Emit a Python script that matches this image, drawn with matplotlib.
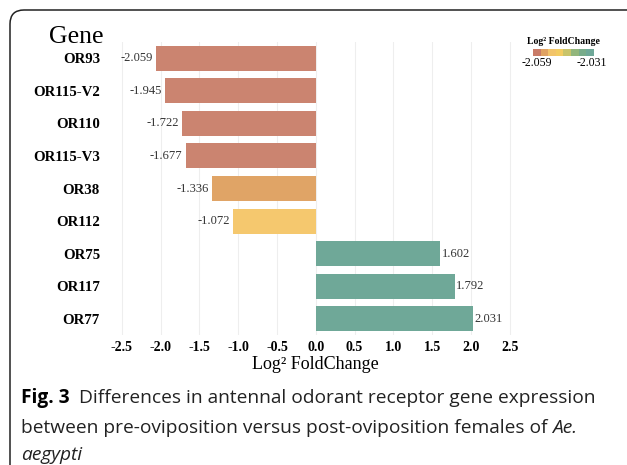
import numpy as np
import matplotlib
matplotlib.use('Agg')
import matplotlib.pyplot as plt
from matplotlib.colors import ListedColormap
from matplotlib.patches import FancyBboxPatch
from matplotlib.transforms import IdentityTransform

genes = ['OR93', 'OR115-V2', 'OR110', 'OR115-V3', 'OR38', 'OR112', 'OR75', 'OR117', 'OR77']
log2fc = [-2.059, -1.945, -1.722, -1.677, -1.336, -1.072, 1.602, 1.792, 2.031]
ticks = [-2.5, -2.0, -1.5, -1.0, -0.5, 0.0, 0.5, 1.0, 1.5, 2.0, 2.5]

bar_colors = ['#CB8470'] * 4 + ['#E0A466', '#F5C86E'] + ['#6FA898'] * 3
legend_colors = ['#C97B67', '#E0A262', '#F2C46A', '#F3CC62', '#C9C46A', '#92B67C', '#78AC8A', '#6FA898']

serif = ['Liberation Serif', 'DejaVu Serif']
sans = ['Open Sans', 'DejaVu Sans']

fig = plt.figure(figsize=(6.27, 4.65), dpi=100)

# rounded frame round the figure
frame = FancyBboxPatch((10, -30), 660, 485, boxstyle="round,pad=0,rounding_size=14",
                       transform=IdentityTransform(), facecolor='none',
                       edgecolor='#222222', linewidth=1.1)
fig.patches.append(frame)

ax = fig.add_axes([0.166, 0.2796, 0.674, 0.630])
y = np.arange(len(genes))
ax.barh(y, log2fc, height=0.77, color=bar_colors, zorder=2)

for yi, v in zip(y, log2fc):
    if v < 0:
        ax.text(v - 0.04, yi, f'{v:.3f}', ha='right', va='center',
                fontsize=9, family=serif, color='#333333')
    else:
        ax.text(v + 0.02, yi, f'{v:.3f}', ha='left', va='center',
                fontsize=9, family=serif, color='#333333')

ax.set_xlim(-2.73, 2.72)
ax.set_ylim(8.5, -0.5)
ax.set_xticks(ticks)
ax.set_xticklabels([f'{t:.1f}' for t in ticks], family=serif, fontweight='bold', fontsize=10)
ax.set_yticks(y)
ax.set_yticklabels(genes, family=serif, fontweight='bold', fontsize=10.7)
ax.tick_params(length=0, pad=4)
ax.tick_params(axis='y', pad=3)
ax.grid(axis='x', color='#EEEEEE', linewidth=0.8, zorder=0)
for s in ax.spines.values():
    s.set_visible(False)
ax.set_xlabel('Log² FoldChange', family=serif, fontsize=13, labelpad=2)

fig.text(103 / 627, 1 - 37 / 465, 'Gene', ha='right', va='center', family=serif, fontsize=18.5)

# small legend colour bar
cax = fig.add_axes([533 / 627, 1 - 56 / 465, 61 / 627, 7 / 465])
cax.imshow(np.arange(len(legend_colors))[None, :], cmap=ListedColormap(legend_colors),
           aspect='auto')
cax.set_xticks([])
cax.set_yticks([])
for s in cax.spines.values():
    s.set_visible(False)
fig.text(563 / 627, 1 - 41 / 465, 'Log² FoldChange', ha='center', va='center',
         family=serif, fontweight='bold', fontsize=7)
fig.text(522 / 627, 1 - 63 / 465, '-2.059', ha='left', va='center', family=serif, fontsize=8.5)
fig.text(607 / 627, 1 - 63 / 465, '-2.031', ha='right', va='center', family=serif, fontsize=8.5)

# caption
cap_size = 13.8
t1 = fig.text(21 / 627, 1 - 398 / 465, 'Fig. 3', ha='left', va='center',
              family=sans, fontweight='bold', fontsize=cap_size)
plt.annotate(' Differences in antennal odorant receptor gene expression',
             xy=(1, 0.5), xycoords=t1, xytext=(3, 0), textcoords='offset points',
             va='center', ha='left',
             family=sans, fontsize=cap_size, color='#222222', annotation_clip=False)
t2 = fig.text(21 / 627, 1 - 428 / 465, 'between pre-oviposition versus post-oviposition females of ',
              ha='left', va='center', family=sans, fontsize=cap_size, color='#222222')
plt.annotate('Ae.', xy=(1, 0.5), xycoords=t2, va='center', ha='left',
             family=sans, fontsize=cap_size, style='italic', color='#222222',
             annotation_clip=False)
fig.text(21 / 627, 1 - 455 / 465, 'aegypti', ha='left', va='center',
         family=sans, fontsize=cap_size, style='italic', color='#222222')

fig.savefig('out.png', dpi=100)
